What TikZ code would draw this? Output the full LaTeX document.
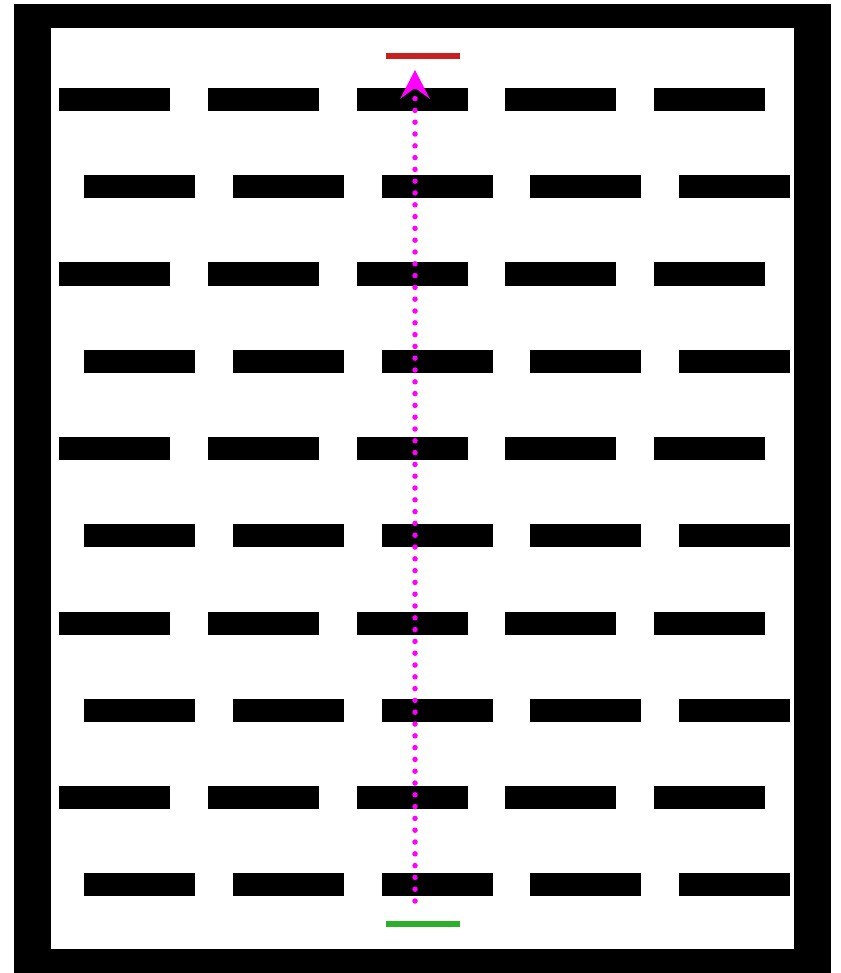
\documentclass[tikz,border=0pt]{standalone}
\usetikzlibrary{arrows.meta}
\definecolor{goalred}{RGB}{200,32,32}
\definecolor{startgreen}{RGB}{44,176,44}
\definecolor{pathmag}{RGB}{255,0,255}
\begin{document}
\begin{tikzpicture}[x=1pt,y=-1pt,
  bar/.style={fill=black,draw=none},
  goalline/.style={line width=6pt,draw=goalred},
  startline/.style={line width=6pt,draw=startgreen},
  pathline/.style={draw=pathmag,line width=5.5pt,line cap=round,dash pattern=on 0pt off 11.8pt}]
\useasboundingbox (0,0) rectangle (840,973);
% frame
\fill[black] (14,4) rectangle (831,973);
\fill[white] (51,28) rectangle (794,949);
% bars
\foreach \r in {0,...,9}{
  \pgfmathsetmacro{\yc}{99.5+87.25*\r}
  \pgfmathsetmacro{\xo}{mod(\r,2)==0 ? 59 : 84}
  \foreach \c in {0,...,4}{
    \pgfmathsetmacro{\xl}{\xo+148.75*\c}
    \fill[bar] (\xl,\yc-11.5) rectangle ++(111,23);
  }
}
% goal and start lines
\draw[goalline] (386,56.5) -- (460,56.5);
\draw[startline] (386,924) -- (460,924);
% path
\coordinate (s) at (415,901);
\coordinate (e) at (415,70);
\draw[pathline,shorten >=14pt] (s) -- (e);
\fill[pathmag] (e) -- (430,99) -- (415,88) -- (400,99) -- cycle;
\end{tikzpicture}
\end{document}
